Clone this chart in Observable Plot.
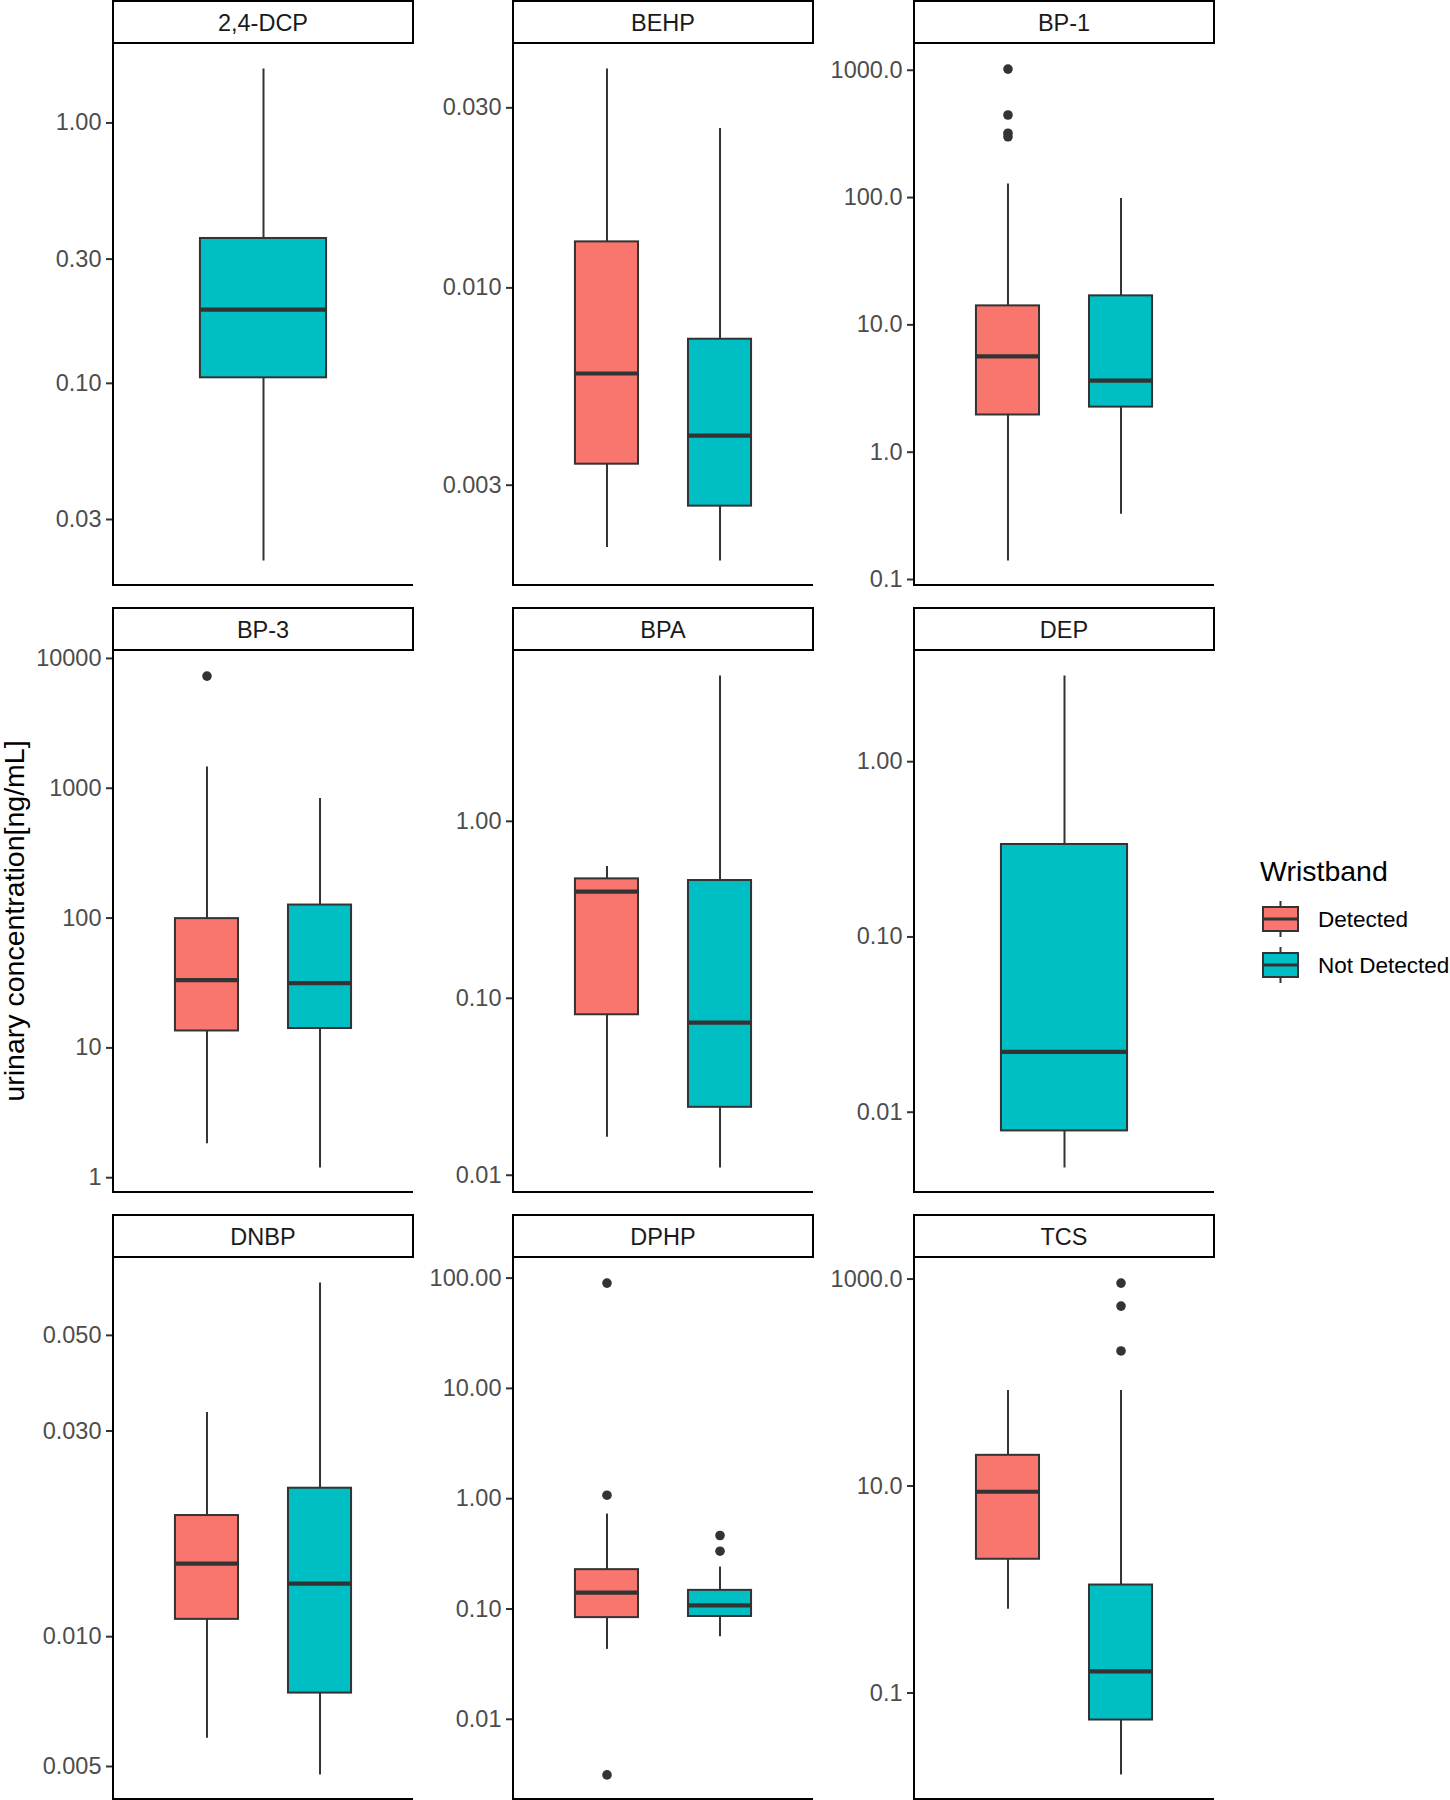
<!DOCTYPE html>
<html>
<head>
<meta charset="utf-8">
<script src="https://cdn.jsdelivr.net/npm/d3@7"></script>
<script src="https://cdn.jsdelivr.net/npm/@observablehq/plot@0.6"></script>
<style>
  html, body { margin: 0; padding: 0; background: #fff; }
  #root { position: relative; width: 1450px; height: 1800px; font-family: "Liberation Sans", Arial, sans-serif; }
  .strip { position: absolute; box-sizing: border-box; border: 2.5px solid #000; background: #fff;
           display: flex; align-items: center; justify-content: center; font-size: 23.5px; color: #1a1a1a;
           padding-top: 2px; }
  .panel { position: absolute; }
  .panel svg { overflow: visible; }
  .panel svg text { fill: #4d4d4d; }
  .axes { position: absolute; box-sizing: border-box; border-left: 2px solid #000; border-bottom: 2px solid #000; pointer-events: none; }
  .ytitle { position: absolute; font-size: 28.5px; color: #000; white-space: nowrap;
            transform: translate(-50%, -50%) rotate(-90deg); }
  .legend { position: absolute; }
  .legend svg { overflow: visible; }
</style>
</head>
<body>
<div id="root"></div>
<script>
// ---------- data ----------
const analytes = ["2,4-DCP", "BEHP", "BP-1", "BP-3", "BPA", "DEP", "DNBP", "DPHP", "TCS"];
const groups = ["Detected", "Not Detected"];
const fillColors = ["#F8766D", "#00BFC4"];

// box summaries (one entry per box)
const boxAnalyte = ["2,4-DCP", "BEHP", "BEHP", "BP-1", "BP-1", "BP-3", "BP-3", "BPA", "BPA", "DEP", "DNBP", "DNBP", "DPHP", "DPHP", "TCS", "TCS"];
const boxGroup   = ["Not Detected", "Detected", "Not Detected", "Detected", "Not Detected", "Detected", "Not Detected", "Detected", "Not Detected", "Not Detected", "Detected", "Not Detected", "Detected", "Not Detected", "Detected", "Not Detected"];
const whiskerLow  = [0.0208, 0.00205, 0.00189, 0.140, 0.325, 1.83, 1.19, 0.0164, 0.0110, 0.00481, 0.00581, 0.00478, 0.0430, 0.0560, 0.645, 0.01616];
const q1          = [0.105, 0.00341, 0.00264, 1.96, 2.26, 13.5, 14.1, 0.0807, 0.0242, 0.00782, 0.01097, 0.00740, 0.0835, 0.0855, 1.96, 0.0548];
const median      = [0.192, 0.00593, 0.00406, 5.65, 3.65, 33.3, 31.5, 0.401, 0.0729, 0.0221, 0.01477, 0.01328, 0.1406, 0.108, 8.8, 0.162];
const q3          = [0.36, 0.01324, 0.00731, 14.1, 16.9, 99, 126, 0.473, 0.463, 0.337, 0.0191, 0.0221, 0.2273, 0.1475, 19.8, 1.105];
const whiskerHigh = [1.61, 0.0380, 0.02644, 128, 98.4, 1458, 834, 0.555, 6.62, 3.08, 0.0331, 0.0661, 0.726, 0.240, 83.8, 83.8];

// outliers
const outlierAnalyte = ["BP-1", "BP-1", "BP-1", "BP-1", "BP-3", "DPHP", "DPHP", "DPHP", "DPHP", "DPHP", "TCS", "TCS", "TCS"];
const outlierGroup   = ["Detected", "Detected", "Detected", "Detected", "Detected", "Detected", "Detected", "Detected", "Not Detected", "Not Detected", "Not Detected", "Not Detected", "Not Detected"];
const outlierValue   = [1021, 445, 320, 300, 7310, 90.1, 1.075, 0.00313, 0.4636, 0.334, 914, 548, 202];

// y-axis ticks per analyte
const tickValues = [
  [0.03, 0.1, 0.3, 1],
  [0.003, 0.01, 0.03],
  [0.1, 1, 10, 100, 1000],
  [1, 10, 100, 1000, 10000],
  [0.01, 0.1, 1],
  [0.01, 0.1, 1],
  [0.005, 0.01, 0.03, 0.05],
  [0.01, 0.1, 1, 10, 100],
  [0.1, 10, 1000]
];
const tickLabels = [
  ["0.03", "0.10", "0.30", "1.00"],
  ["0.003", "0.010", "0.030"],
  ["0.1", "1.0", "10.0", "100.0", "1000.0"],
  ["1", "10", "100", "1000", "10000"],
  ["0.01", "0.10", "1.00"],
  ["0.01", "0.10", "1.00"],
  ["0.005", "0.010", "0.030", "0.050"],
  ["0.01", "0.10", "1.00", "10.00", "100.00"],
  ["0.1", "10.0", "1000.0"]
];
const yTitle = "urinary concentration[ng/mL]";
const legendTitle = "Wristband";

// ---------- build tables ----------
const boxes = boxAnalyte.map((a, i) => ({
  analyte: a, group: boxGroup[i], lo: whiskerLow[i], q1: q1[i], med: median[i], q3: q3[i], hi: whiskerHigh[i]
}));
const outliers = outlierAnalyte.map((a, i) => ({ analyte: a, group: outlierGroup[i], value: outlierValue[i] }));

// ---------- layout ----------
const colLeft = [113, 513, 914];
const rowTop = [0, 607, 1214];
const stripH = 44, plotH = 541, plotW = 300, marginL = 113;

const root = document.getElementById("root");

analytes.forEach((name, k) => {
  const col = k % 3, row = Math.floor(k / 3);
  const L = colLeft[col], T = rowTop[row];
  const bx = boxes.filter(d => d.analyte === name);
  const ox = outliers.filter(d => d.analyte === name);
  const present = groups.filter(g => bx.some(d => d.group === g));

  // y domain: data extent expanded by 5% in log space
  const vals = bx.flatMap(d => [d.lo, d.hi]).concat(ox.map(d => d.value));
  const lmin = Math.log10(d3.min(vals)), lmax = Math.log10(d3.max(vals));
  const pad = 0.05 * (lmax - lmin);
  const domain = [Math.pow(10, lmin - pad), Math.pow(10, lmax + pad)];

  const xopts = present.length === 2
    ? { type: "band", domain: present, paddingInner: 0.442, paddingOuter: 0.548, round: false, axis: null }
    : { type: "band", domain: present, paddingInner: 0.408, paddingOuter: 0.408, round: false, axis: null };

  const ticks = tickValues[k], labels = tickLabels[k];

  const chart = Plot.plot({
    width: marginL + plotW,
    height: plotH,
    marginLeft: marginL, marginRight: 0, marginTop: 0, marginBottom: 0,
    style: { fontFamily: "Liberation Sans, Arial, sans-serif", fontSize: "23.5px", color: "#333333", overflow: "visible", background: "transparent" },
    x: xopts,
    y: { type: "log", domain, axis: null },
    color: { domain: groups, range: fillColors },
    marks: [
      Plot.axisY({
        ticks: ticks,
        tickFormat: d => labels[ticks.findIndex(t => Math.abs(t - d) / t < 1e-6)],
        tickSize: 7, tickPadding: 5, stroke: "#333333", strokeWidth: 2,
        fontSize: 23.5, label: null
      }),
      Plot.ruleX(bx, { x: "group", y1: "lo", y2: "hi", stroke: "#333333", strokeWidth: 2 }),
      Plot.barY(bx, { x: "group", y1: "q1", y2: "q3", fill: "group", stroke: "#333333", strokeWidth: 2 }),
      Plot.tickY(bx, { x: "group", y: "med", stroke: "#333333", strokeWidth: 4.2 }),
      Plot.dot(ox, { x: "group", y: "value", r: 4.8, fill: "#333333", stroke: "none" })
    ]
  });

  const wrap = document.createElement("div");
  wrap.className = "panel";
  wrap.style.left = (L - marginL) + "px";
  wrap.style.top = (T + stripH) + "px";
  wrap.appendChild(chart);
  root.appendChild(wrap);

  const axes = document.createElement("div");
  axes.className = "axes";
  axes.style.left = (L - 1) + "px";
  axes.style.top = (T + stripH) + "px";
  axes.style.width = (plotW + 1) + "px";
  axes.style.height = (plotH + 1) + "px";
  root.appendChild(axes);

  const strip = document.createElement("div");
  strip.className = "strip";
  strip.style.left = (L - 1) + "px";
  strip.style.top = T + "px";
  strip.style.width = (plotW + 2) + "px";
  strip.style.height = stripH + "px";
  strip.textContent = name;
  root.appendChild(strip);
});

// y-axis title
const yt = document.createElement("div");
yt.className = "ytitle";
yt.style.left = "14px";
yt.style.top = "921px";
yt.textContent = yTitle;
root.appendChild(yt);

// legend
const lg = d3.create("svg").attr("width", 188).attr("height", 150)
  .style("font-family", "Liberation Sans, Arial, sans-serif");
lg.append("text").attr("x", 0).attr("y", 28).attr("font-size", 28.5).attr("fill", "#000").text(legendTitle);
groups.forEach((g, i) => {
  const cy = 66 + i * 46; // key center
  const kx = 3, kw = 35, kh = 24;
  const gg = lg.append("g");
  gg.append("line").attr("x1", kx + kw / 2).attr("x2", kx + kw / 2).attr("y1", cy - kh / 2 - 6).attr("y2", cy + kh / 2 + 6)
    .attr("stroke", "#333").attr("stroke-width", 2);
  gg.append("rect").attr("x", kx).attr("y", cy - kh / 2).attr("width", kw).attr("height", kh)
    .attr("fill", fillColors[i]).attr("stroke", "#333").attr("stroke-width", 2);
  gg.append("line").attr("x1", kx).attr("x2", kx + kw).attr("y1", cy).attr("y2", cy)
    .attr("stroke", "#333").attr("stroke-width", 3);
  lg.append("text").attr("x", 58).attr("y", cy).attr("dy", "0.35em").attr("font-size", 22.5).attr("fill", "#000").text(g);
});
const lgDiv = document.createElement("div");
lgDiv.className = "legend";
lgDiv.style.left = "1260px";
lgDiv.style.top = "853px";
lgDiv.appendChild(lg.node());
root.appendChild(lgDiv);
</script>
</body>
</html>
